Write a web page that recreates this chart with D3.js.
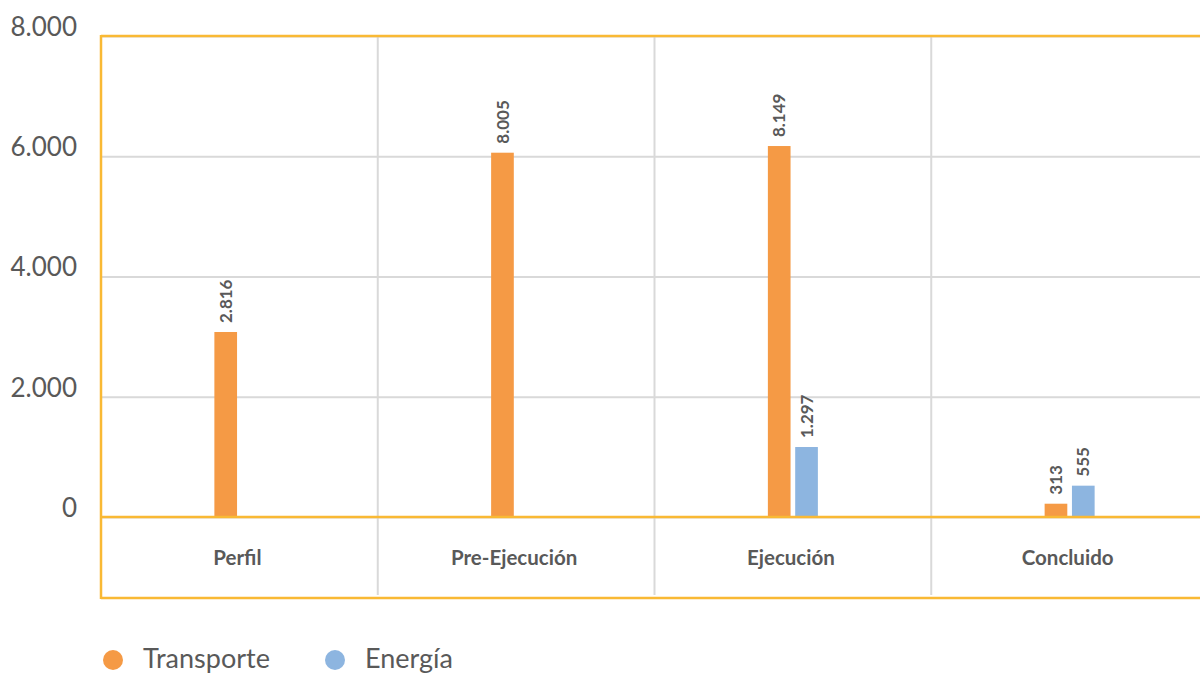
<!DOCTYPE html>
<html>
<head>
<meta charset="utf-8">
<script src="https://cdn.jsdelivr.net/npm/d3@7"></script>
<style>
  html, body { margin: 0; padding: 0; background: #fff; }
  svg { display: block; font-family: Lato, "Open Sans", sans-serif; }
</style>
</head>
<body>
<svg id="chart" width="1200" height="673"></svg>
<script>
const categories = ["Perfil", "Pre-Ejecución", "Ejecución", "Concluido"];
const seriesNames = ["Transporte", "Energía"];
const transporte = [3077, 6059, 6170, 221];
const energia = [null, null, 1164, 521];
const transporteLabels = ["2.816", "8.005", "8.149", "313"];
const energiaLabels = [null, null, "1.297", "555"];
const yTicks = [0, 2000, 4000, 6000, 8000];

(function () {
const colors = { Transporte: "#F59A45", "Energía": "#8DB5E0" };
const yellow = "#F9B934";
const grid = "#D9D9D9";
const textCol = "#595959";

const svg = d3.select("#chart");
const M = { left: 101, right: 1208, top: 36, zero: 517, catBottom: 598 };

const locale = d3.formatLocale({ decimal: ",", thousands: ".", grouping: [3], currency: ["", ""] });
const fmt = locale.format(",.0f");

const x = d3.scaleBand().domain(categories).range([M.left, M.right]).padding(0);
const y = d3.scaleLinear().domain([0, 8000]).range([M.zero, M.top]);
const sub = d3.scaleBand().domain(seriesNames).range([-25, 25]).paddingInner(0.17);

// horizontal gridlines + y labels via axis
const yAxis = svg.append("g")
  .attr("transform", `translate(${M.left},0)`)
  .call(d3.axisLeft(y).tickValues(yTicks).tickFormat(fmt).tickSize(-(M.right - M.left)).tickPadding(24));
yAxis.select(".domain").remove();
yAxis.selectAll(".tick line").attr("stroke", grid).attr("stroke-width", 2);
yAxis.selectAll(".tick text")
  .attr("fill", textCol).attr("font-size", 26).attr("font-family", "Lato")
  .attr("dy", "-0.02em");

// vertical category dividers
svg.append("g").selectAll("line")
  .data(categories.slice(1))
  .join("line")
  .attr("x1", d => x(d)).attr("x2", d => x(d))
  .attr("y1", M.top).attr("y2", M.catBottom - 3)
  .attr("stroke", grid).attr("stroke-width", 2);

// bars
const rows = categories.map((c, i) => ({ c, vals: [
  { s: "Transporte", v: transporte[i], label: transporteLabels[i] },
  { s: "Energía", v: energia[i], label: energiaLabels[i] }
].filter(d => d.v != null) }));

const gBars = svg.append("g");
rows.forEach(r => {
  const cx = x(r.c) + x.bandwidth() / 2;
  r.vals.forEach(d => {
    gBars.append("rect")
      .attr("x", cx + sub(d.s))
      .attr("width", sub.bandwidth())
      .attr("y", y(d.v))
      .attr("height", y(0) - y(d.v))
      .attr("fill", colors[d.s]);
    const lx = cx + sub(d.s) + sub.bandwidth() / 2;
    const ly = y(d.v) - 9;
    gBars.append("text")
      .attr("transform", `translate(${lx},${ly}) rotate(-90)`)
      .attr("dy", "0.36em")
      .attr("text-anchor", "start")
      .attr("font-size", 17).attr("font-weight", "bold")
      .attr("fill", textCol)
      .text(d.label);
  });
});

// yellow frame lines
const frame = svg.append("g").attr("stroke", yellow).attr("stroke-width", 2.5);
frame.append("line").attr("x1", M.left).attr("x2", 1200).attr("y1", M.top).attr("y2", M.top);
frame.append("line").attr("x1", M.left).attr("x2", 1200).attr("y1", M.zero).attr("y2", M.zero);
frame.append("line").attr("x1", M.left).attr("x2", 1200).attr("y1", M.catBottom).attr("y2", M.catBottom);
frame.append("line").attr("x1", M.left).attr("x2", M.left).attr("y1", M.top - 1).attr("y2", M.catBottom + 1);

// category labels
svg.append("g").selectAll("text")
  .data(categories)
  .join("text")
  .attr("x", d => x(d) + x.bandwidth() / 2 - 2)
  .attr("y", 558)
  .attr("dy", "0.35em")
  .attr("text-anchor", "middle")
  .attr("font-size", 20.5).attr("font-weight", "bold")
  .attr("fill", textCol)
  .text(d => d);

// legend
const legendX = [113, 335];
const lg = svg.append("g");
seriesNames.forEach((s, i) => {
  lg.append("circle").attr("cx", legendX[i]).attr("cy", 660).attr("r", 10).attr("fill", colors[s]);
  lg.append("text").attr("x", legendX[i] + 30).attr("y", 668)
    .attr("font-size", 27).attr("fill", textCol).text(s);
});
})();
</script>
</body>
</html>
